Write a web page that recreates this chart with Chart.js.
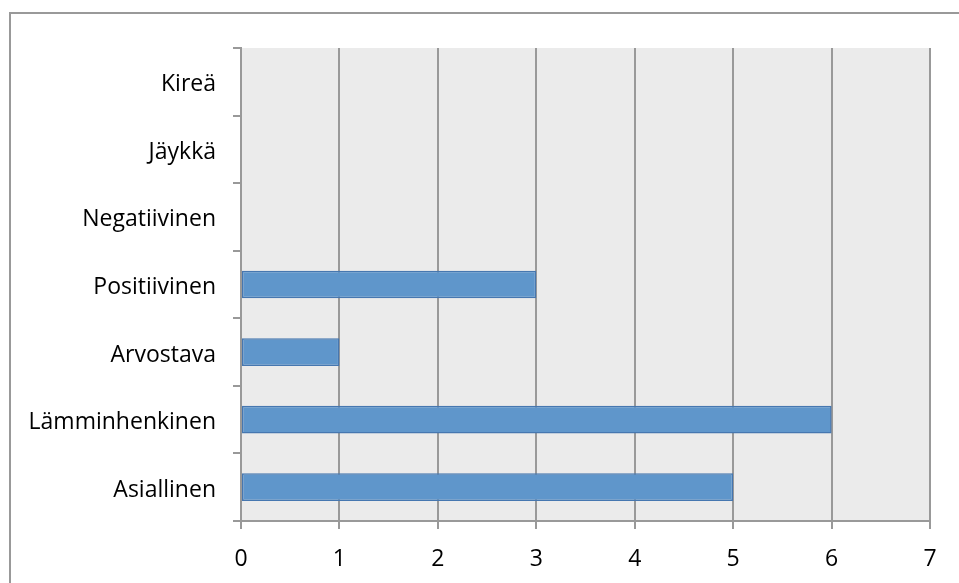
<!DOCTYPE html>
<html>
<head>
<meta charset="utf-8">
<script src="https://cdn.jsdelivr.net/npm/chart.js@4/dist/chart.umd.min.js"></script>
<style>
  html, body { margin: 0; padding: 0; background: #fff; }
  #wrap { width: 959px; height: 583px; position: relative; }
</style>
</head>
<body>
<div id="wrap"><canvas id="barChart"></canvas></div>
<script>
const categories = ['Kireä', 'Jäykkä', 'Negatiivinen', 'Positiivinen', 'Arvostava', 'Lämminhenkinen', 'Asiallinen'];
const values = [0, 0, 0, 3, 1, 6, 5];
const xMin = 0;
const xMax = 7;

// gray plot background + outer frame
const frame = {
  id: 'frame',
  beforeDraw(chart) {
    const { ctx, chartArea: a } = chart;
    ctx.save();
    ctx.fillStyle = '#ebebeb';
    ctx.fillRect(a.left, a.top, a.right - a.left, a.bottom - a.top);
    ctx.strokeStyle = '#999';
    ctx.lineWidth = 2;
    ctx.strokeRect(10, 13, 1000, 1000);
    ctx.restore();
  }
};

const font = { family: '"Open Sans", sans-serif', size: 23 };

new Chart(document.getElementById('barChart'), {
  type: 'bar',
  data: {
    labels: categories,
    datasets: [{
      data: values,
      backgroundColor: '#5f96cb',
      borderColor: '#4677b0',
      borderWidth: (c) => (c.raw ? 1.5 : 0),
      borderSkipped: false,
      barPercentage: 0.41,
      categoryPercentage: 1
    }]
  },
  options: {
    indexAxis: 'y',
    responsive: true,
    maintainAspectRatio: false,
    animation: false,
    layout: { padding: { top: 48, right: 29, left: 0, bottom: 0 } },
    plugins: { legend: { display: false }, tooltip: { enabled: false } },
    scales: {
      x: {
        min: xMin,
        max: xMax,
        ticks: { stepSize: 1, color: '#000', font, padding: 17 },
        grid: { color: '#999', lineWidth: 2, tickLength: 8 },
        border: { color: '#999', width: 2 },
        afterFit(s) { s.height = 62; }
      },
      y: {
        ticks: { color: '#000', font, padding: 17, labelOffset: 3 },
        grid: { drawOnChartArea: false, color: '#999', lineWidth: 2, tickLength: 8 },
        border: { color: '#999', width: 2 },
        afterFit(s) { s.width = 241; }
      }
    }
  },
  plugins: [frame]
});
</script>
</body>
</html>
